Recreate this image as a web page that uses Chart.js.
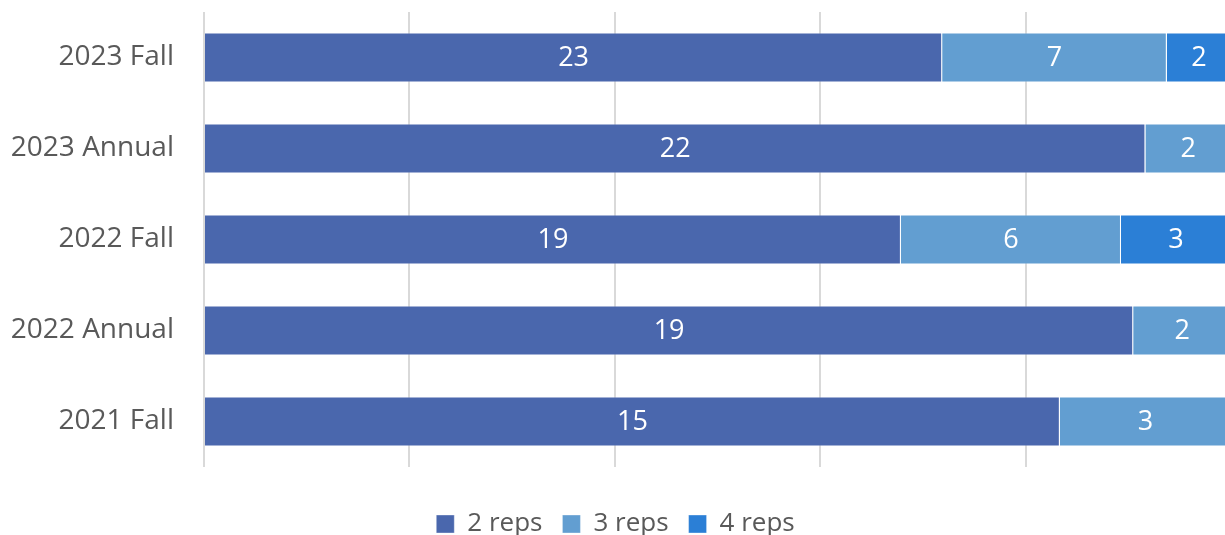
<!DOCTYPE html>
<html>
<head>
<meta charset="utf-8" />
<title>Reps</title>
<script src="https://cdn.jsdelivr.net/npm/chart.js@4.4.0/dist/chart.umd.min.js"></script>
<style>
  html, body { margin: 0; padding: 0; overflow: hidden; background: #fff; }
  #wrap { width: 1231px; height: 547px; }
</style>
</head>
<body>
<div id="wrap"><canvas id="repsChart"></canvas></div>
<script>
// categories and counts
const terms = ['2023 Fall', '2023 Annual', '2022 Fall', '2022 Annual', '2021 Fall'];
const reps2 = [23, 22, 19, 19, 15];
const reps3 = [7, 2, 6, 2, 3];
const reps4 = [2, 0, 3, 0, 0];
const seriesNames = ['2 reps', '3 reps', '4 reps'];
const seriesColors = ['#4a67ad', '#629ed1', '#2b7fd6'];

const raw = [reps2, reps3, reps4];
const totals = terms.map((t, i) => reps2[i] + reps3[i] + reps4[i]);
// 100% stacked: convert counts to shares
const pct = raw.map(arr => arr.map((v, i) => v / totals[i] * 100));

const FONT = '"Open Sans", sans-serif';

// draw the raw counts in the middle of each segment
const countLabels = {
    id: 'countLabels',
    afterDatasetsDraw(chart) {
        const ctx = chart.ctx;
        ctx.save();
        ctx.font = '27px ' + FONT;
        ctx.fillStyle = '#ffffff';
        ctx.textAlign = 'center';
        ctx.textBaseline = 'middle';
        chart.data.datasets.forEach((ds, di) => {
            const meta = chart.getDatasetMeta(di);
            meta.data.forEach((bar, i) => {
                const v = raw[di][i];
                if (!v) return;
                const p = bar.getProps(['x', 'y', 'base'], true);
                ctx.fillText(String(v), (p.x + p.base) / 2, p.y + 1);
            });
        });
        ctx.restore();
    }
};

const ctx = document.getElementById('repsChart').getContext('2d');
new Chart(ctx, {
    type: 'bar',
    data: {
        labels: terms,
        datasets: pct.map((d, i) => ({
            label: seriesNames[i],
            data: d,
            backgroundColor: seriesColors[i],
            borderColor: 'rgba(255,255,255,0.35)',
            borderWidth: 1,
            barPercentage: 0.55,
            categoryPercentage: 1.0
        }))
    },
    options: {
        indexAxis: 'y',
        responsive: true,
        maintainAspectRatio: false,
        animation: false,
        layout: { padding: { top: 12, left: 0, right: 0, bottom: 0 } },
        scales: {
            x: {
                stacked: true,
                min: 0,
                max: 100,
                ticks: { display: false, stepSize: 20 },
                grid: { color: '#d9d9d9', lineWidth: 2, drawTicks: false },
                border: { display: false },
                afterFit(scale) { scale.height = 24; }
            },
            y: {
                stacked: true,
                ticks: { color: '#595959', font: { family: FONT, size: 28 }, padding: 30 },
                grid: { display: false, drawTicks: false },
                border: { display: false },
                afterFit(scale) {
                    scale.width = 204;
                    scale.paddingTop = 0;
                    scale.paddingBottom = 0;
                }
            }
        },
        plugins: {
            legend: {
                position: 'bottom',
                labels: {
                    color: '#595959',
                    font: { family: FONT, size: 26 },
                    boxWidth: 18,
                    boxHeight: 18,
                    padding: 20
                }
            },
            tooltip: { enabled: false }
        }
    },
    plugins: [countLabels]
});
</script>
</body>
</html>
